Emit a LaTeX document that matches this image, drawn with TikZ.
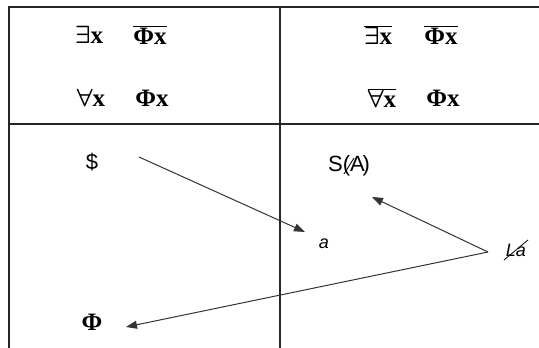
\documentclass[tikz,border=0pt]{standalone}
\usepackage{fontspec}
\setmainfont{Liberation Serif}
\setsansfont{Liberation Sans}
\usetikzlibrary{arrows.meta}
\newcommand{\olbox}[1]{$\overline{\hbox{#1}}$}

\begin{document}
\begin{tikzpicture}[x=1pt,y=-1pt,
  rule/.style={line width=1.7pt,black!85},
  arr/.style={line width=1pt,black!80,-{Triangle[length=11pt,width=8pt]}},
  sym/.style={font=\bfseries\boldmath\fontsize{25}{28}\selectfont,inner sep=0pt},
  lbl/.style={font=\sffamily\fontsize{22}{26}\selectfont,inner sep=0pt},
  small/.style={font=\sffamily\itshape\fontsize{18}{20}\selectfont,inner sep=0pt}]
\useasboundingbox (0,0) rectangle (539,348);
% table lines
\draw[rule] (9,348) -- (9,7) -- (539,7);
\draw[rule] (280,7) -- (280,348);
\draw[rule] (9,124) -- (539,124);
% upper row
\node[sym] (ex1) at (89,35) {$\exists$x};
\node[sym] (phb1) at (150,35) {\olbox{Φx}};
\node[sym] (fa1) at (91,98) {$\forall$x};
\node[sym] (ph1) at (152,98) {Φx};
\node[sym] (ex2) at (378,35) {\olbox{$\exists$x}};
\node[sym] (phb2) at (441,35) {\olbox{Φx}};
\node[sym] (fa2) at (382,98) {\olbox{$\forall$x}};
\node[sym] (ph2) at (443,98) {Φx};
% lower row
\node[lbl] (dol) at (92,162) {\$};
\node[sym] (phi) at (92,322) {Φ};
\node[lbl] (sa) at (349,166) {S(A\kern-.1em)};
\node[small] (al) at (324,244) {a};
\node[small] (la) at (516,250) {La};
\coordinate (dolend) at (139,157);
\coordinate (laend) at (488,252);
\coordinate (altip) at (305,232);
\coordinate (satip) at (372,197);
\coordinate (phitip) at (126,327);
% arrows
\draw[arr] (dolend) -- (altip);
\draw[arr] (laend) -- (satip);
\draw[arr] (laend) -- (phitip);
% strokes over the odd glyphs
\draw[line width=.8pt] ([xshift=-5pt,yshift=-8pt]sa.center) -- ([xshift=5pt,yshift=8pt]sa.center);
\draw[line width=.8pt] ([xshift=-12pt,yshift=-10pt]la.center) -- ([xshift=12pt,yshift=10pt]la.center);
\end{tikzpicture}
\end{document}
